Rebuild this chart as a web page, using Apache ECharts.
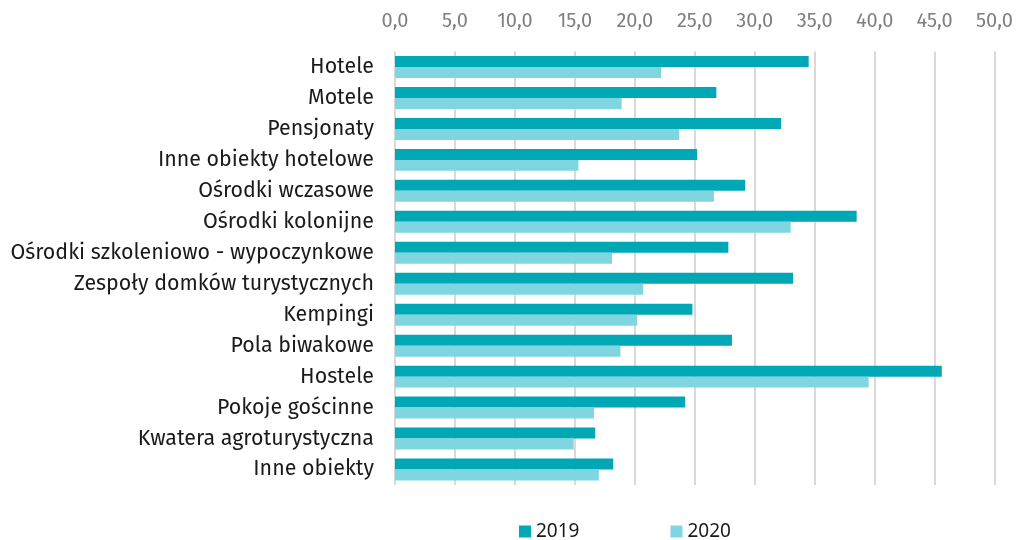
<!DOCTYPE html>
<html>
<head>
<meta charset="utf-8">
<script src="https://cdn.jsdelivr.net/npm/echarts@6/dist/echarts.min.js"></script>
<style>
	html, body { margin: 0; padding: 0; background: #fff; }
	#chart { width: 1016px; height: 540px; }
</style>
</head>
<body>
<div id="chart"></div>
<script>
var categories = ['Hotele', 'Motele', 'Pensjonaty', 'Inne obiekty hotelowe', 'Ośrodki wczasowe', 'Ośrodki kolonijne',
	'Ośrodki szkoleniowo - wypoczynkowe', 'Zespoły domków turystycznych', 'Kempingi', 'Pola biwakowe', 'Hostele',
	'Pokoje gościnne', 'Kwatera agroturystyczna', 'Inne obiekty'
];
var data2019 = [34.5, 26.8, 32.2, 25.2, 29.2, 38.5, 27.8, 33.2, 24.8, 28.1, 45.6, 24.2, 16.7, 18.2];
var data2020 = [22.2, 18.9, 23.7, 15.3, 26.6, 33.0, 18.1, 20.7, 20.2, 18.8, 39.5, 16.6, 14.9, 17.0];
var seriesNames = ['2019', '2020'];

var fontName = '"Fira Sans", "Noto Sans", sans-serif';

function showChart(id) {
	let option = {
		animation: false,
		textStyle: {
			fontFamily: fontName
		},
		grid: {
			left: 395,
			right: 21,
			top: 51.5,
			bottom: 55,
			containLabel: false
		},
		legend: {
			top: 517,
			left: 514,
			itemWidth: 12,
			itemHeight: 12,
			itemGap: 91,
			icon: 'rect',
			textStyle: {
				color: '#1a1a1a',
				fontSize: 19,
				fontFamily: '"Noto Sans", sans-serif'
			},
			data: seriesNames
		},
		xAxis: {
			type: 'value',
			position: 'top',
			min: 0,
			max: 50,
			interval: 5,
			axisLine: {
				show: false
			},
			axisTick: {
				show: false
			},
			axisLabel: {
				color: '#7f7f7f',
				fontSize: 20,
				margin: 20,
				formatter: function(v) {
					return v.toFixed(1).replace('.', ',');
				}
			},
			splitLine: {
				lineStyle: {
					color: '#d9d9d9',
					width: 2
				}
			}
		},
		yAxis: {
			type: 'category',
			inverse: true,
			data: categories,
			axisLine: {
				show: false
			},
			axisTick: {
				show: false
			},
			axisLabel: {
				color: '#1a1a1a',
				fontSize: 21.4,
				margin: 21
			}
		},
		series: [{
			name: seriesNames[0],
			type: 'bar',
			data: data2019,
			itemStyle: {
				color: '#00a8b6'
			},
			barGap: '0%',
			barCategoryGap: '29%'
		}, {
			name: seriesNames[1],
			type: 'bar',
			data: data2020,
			itemStyle: {
				color: '#80d6e0'
			},
			barGap: '0%',
			barCategoryGap: '29%'
		}]
	};
	let chart = echarts.init(document.getElementById(id));
	chart.setOption(option);
}

showChart('chart');
</script>
</body>
</html>
